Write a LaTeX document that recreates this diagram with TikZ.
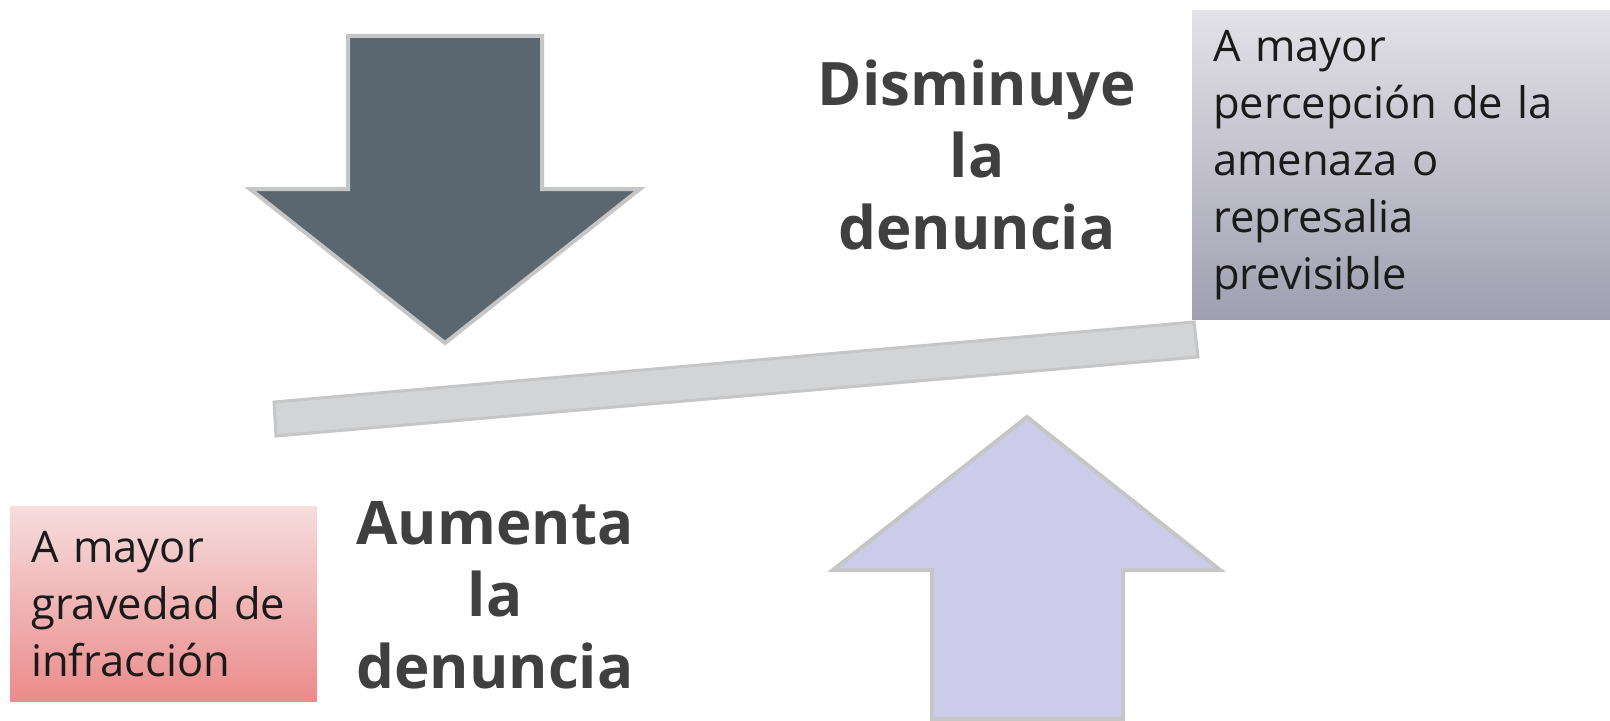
\documentclass[tikz,border=0pt]{standalone}
\usepackage{fontspec}
\setmainfont{Open Sans}
\definecolor{darkarrow}{HTML}{5B6770}
\definecolor{lightarrow}{HTML}{CCCCEA}
\definecolor{beamfill}{HTML}{D3D4D6}
\definecolor{edgegray}{HTML}{C6C6C6}
\definecolor{greytop}{HTML}{E3E2E8}
\definecolor{greybot}{HTML}{A09FB0}
\definecolor{redtop}{HTML}{F6DDDE}
\definecolor{redbot}{HTML}{EB8B8B}
\definecolor{titlecol}{HTML}{404040}
\definecolor{bodycol}{HTML}{1A1A1A}
\begin{document}
\begin{tikzpicture}[x=1bp,y=-1bp,
  arrowshape/.style={draw=edgegray, line width=4bp, line join=miter},
  beamshape/.style={draw=edgegray, fill=beamfill, line width=3bp},
  titletext/.style={text=titlecol, font=\fontsize{60bp}{72bp}\selectfont\bfseries, align=center, inner sep=0pt},
  boxtext/.style={text=bodycol, font=\fontsize{43.5bp}{57bp}\selectfont, align=left, inner ysep=0pt, anchor=north west},
  greybox/.style={boxtext, shading=axis, top color=greytop, bottom color=greybot},
  redbox/.style={boxtext, shading=axis, top color=redtop, bottom color=redbot}]
\useasboundingbox (0,0) rectangle (1610,721);
% down arrow
\draw[arrowshape, fill=darkarrow] (348,36) -- (542,36) -- (542,189) -- (640,189) -- (445,343) -- (250,189) -- (348,189) -- cycle;
% beam
\draw[beamshape] (274,402) -- (1194,322) -- (1198,357) -- (276,436) -- cycle;
% up arrow
\draw[arrowshape, fill=lightarrow] (1027,417) -- (1220,570) -- (1123,570) -- (1123,719) -- (932,719) -- (932,570) -- (833,570) -- cycle;
% boxes
\node[greybox, minimum width=418bp, minimum height=309bp, text width=376bp, inner xsep=21bp] (amenaza) at (1192,10)
  {A mayor\\percepción de la\\amenaza o\\represalia\\previsible};
\node[redbox, minimum width=307bp, minimum height=195bp, text width=265bp, inner xsep=21bp] (gravedad) at (10,506)
  {A mayor\\gravedad de\\infracción};
% titles
\node[titletext, anchor=north] (disminuye) at (977,60) {Disminuye\\la\\denuncia};
\node[titletext, anchor=north] (aumenta) at (495,501) {Aumenta\\la\\denuncia};
\end{tikzpicture}
\end{document}
